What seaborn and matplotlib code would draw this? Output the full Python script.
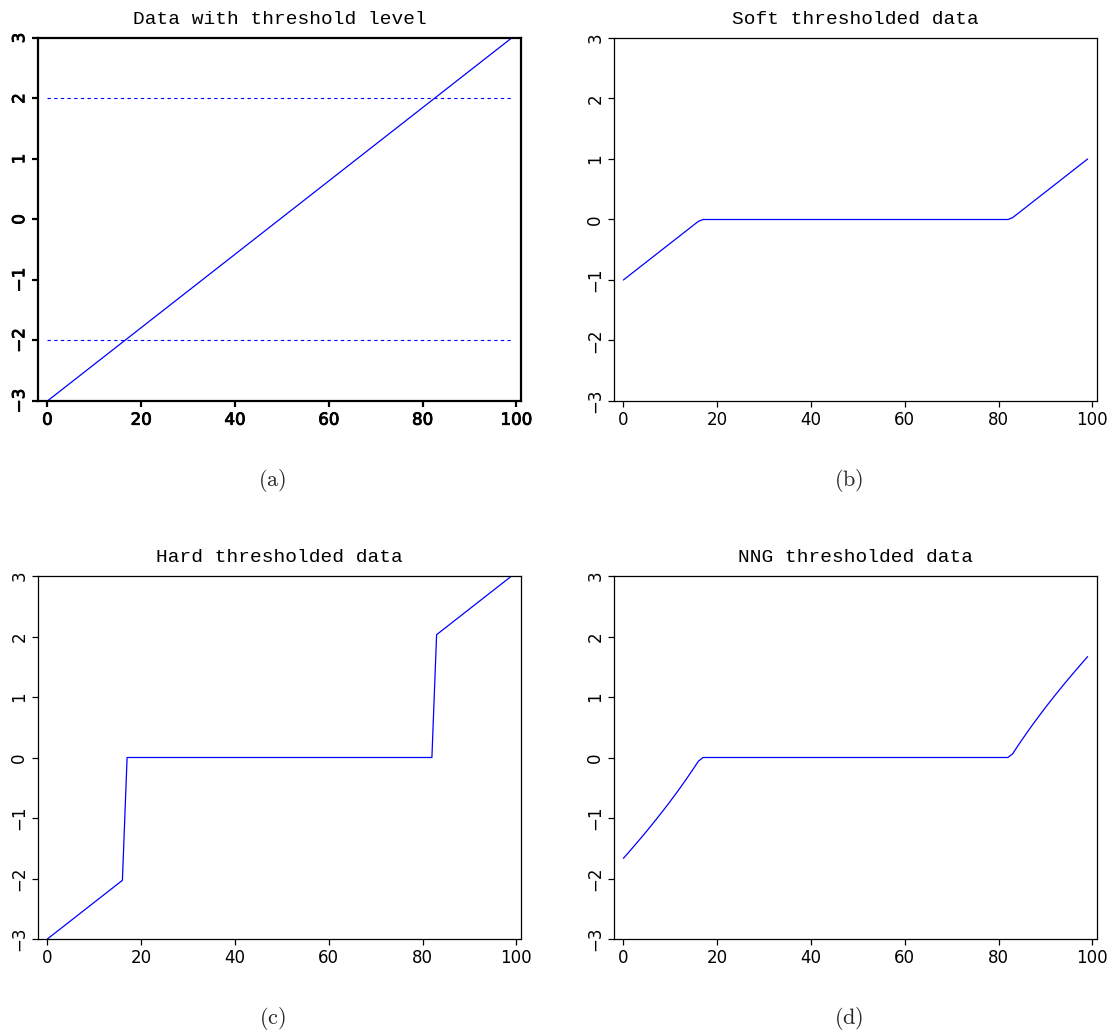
import matplotlib
matplotlib.use("Agg")
import matplotlib.pyplot as plt
import matplotlib.patheffects as pe
import seaborn as sns

# ramp data and threshold
data_x = [0, 99]
data_y = [-3.0, 3.0]
threshold = 2.0

# soft thresholded (kinks at samples 16/17 and 82/83)
soft_x = [0, 16, 17, 82, 83, 99]
soft_y = [-1.0, -0.03, 0.0, 0.0, 0.03, 1.0]

# hard thresholded
hard_x = [0, 16, 17, 82, 83, 99]
hard_y = [-3.0, -2.03, 0.0, 0.0, 2.03, 3.0]

# non-negative garrote thresholded
nng_x = [0, 1, 2, 3, 4, 5, 6, 7, 8, 9, 10, 11, 12, 13, 14, 15, 16, 17,
         82, 83, 84, 85, 86, 87, 88, 89, 90, 91, 92, 93, 94, 95, 96, 97, 98, 99]
nng_y = [-1.667, -1.579, -1.489, -1.399, -1.307, -1.214, -1.119, -1.023,
         -0.925, -0.825, -0.723, -0.619, -0.513, -0.404, -0.292, -0.178,
         -0.060, 0.0,
         0.0, 0.060, 0.178, 0.292, 0.404, 0.513, 0.619, 0.723, 0.825,
         0.925, 1.023, 1.119, 1.214, 1.307, 1.399, 1.489, 1.579, 1.667]

titles = ["Data with threshold level", "Soft thresholded data",
          "Hard thresholded data", "NNG thresholded data"]
labels = ["(a)", "(b)", "(c)", "(d)"]
xticks = [0, 20, 40, 60, 80, 100]
yticks = [-3, -2, -1, 0, 1, 2, 3]

sns.set_style("ticks")
plt.rcParams["mathtext.fontset"] = "cm"

W, H = 1117, 1034
fig = plt.figure(figsize=(W / 100, H / 100), dpi=100)

boxes = [(38, 38), (614, 38), (38, 576), (614, 576)]
aw, ah = 483, 363
series = [(data_x, data_y), (soft_x, soft_y), (hard_x, hard_y), (nng_x, nng_y)]

for i, ((px, py), (xs, ys)) in enumerate(zip(boxes, series)):
    ax = fig.add_axes([px / W, 1 - (py + ah) / H, aw / W, ah / H])
    bold = i == 0
    lw = 1.6 if bold else 0.9
    sns.lineplot(x=xs, y=ys, ax=ax, color="#0000ff", lw=0.9,
                 estimator=None, sort=False)
    if i == 0:
        for t in (threshold, -threshold):
            sns.lineplot(x=[0, 99], y=[t, t], ax=ax, color="#0000ff",
                         lw=0.8, dashes=False, linestyle=(0, (3, 3)))
    ax.set_xlim(-2, 101)
    ax.set_ylim(-3, 3)
    ax.set_xticks(xticks)
    ax.set_yticks(yticks)
    for s in ax.spines.values():
        s.set_visible(True)
        s.set_linewidth(lw)
        s.set_color("black")
    ax.tick_params(direction="out", length=4, width=lw, labelsize=12,
                   colors="black", pad=3)
    for lab in ax.get_yticklabels():
        lab.set_rotation(90)
        lab.set_va("center")
    if bold:
        for lab in ax.get_xticklabels() + ax.get_yticklabels():
            lab.set_path_effects([pe.withStroke(linewidth=0.6, foreground="black")])
    ax.set_title(titles[i], family="Liberation Mono", fontsize=14, pad=10,
                 color="black")
    fig.text((px + aw / 2 - 7) / W, 1 - (py + ah + 80) / H,
             r"$\mathrm{" + labels[i] + "}$", ha="center", va="center",
             fontsize=16)

fig.savefig("out.png", dpi=100)
